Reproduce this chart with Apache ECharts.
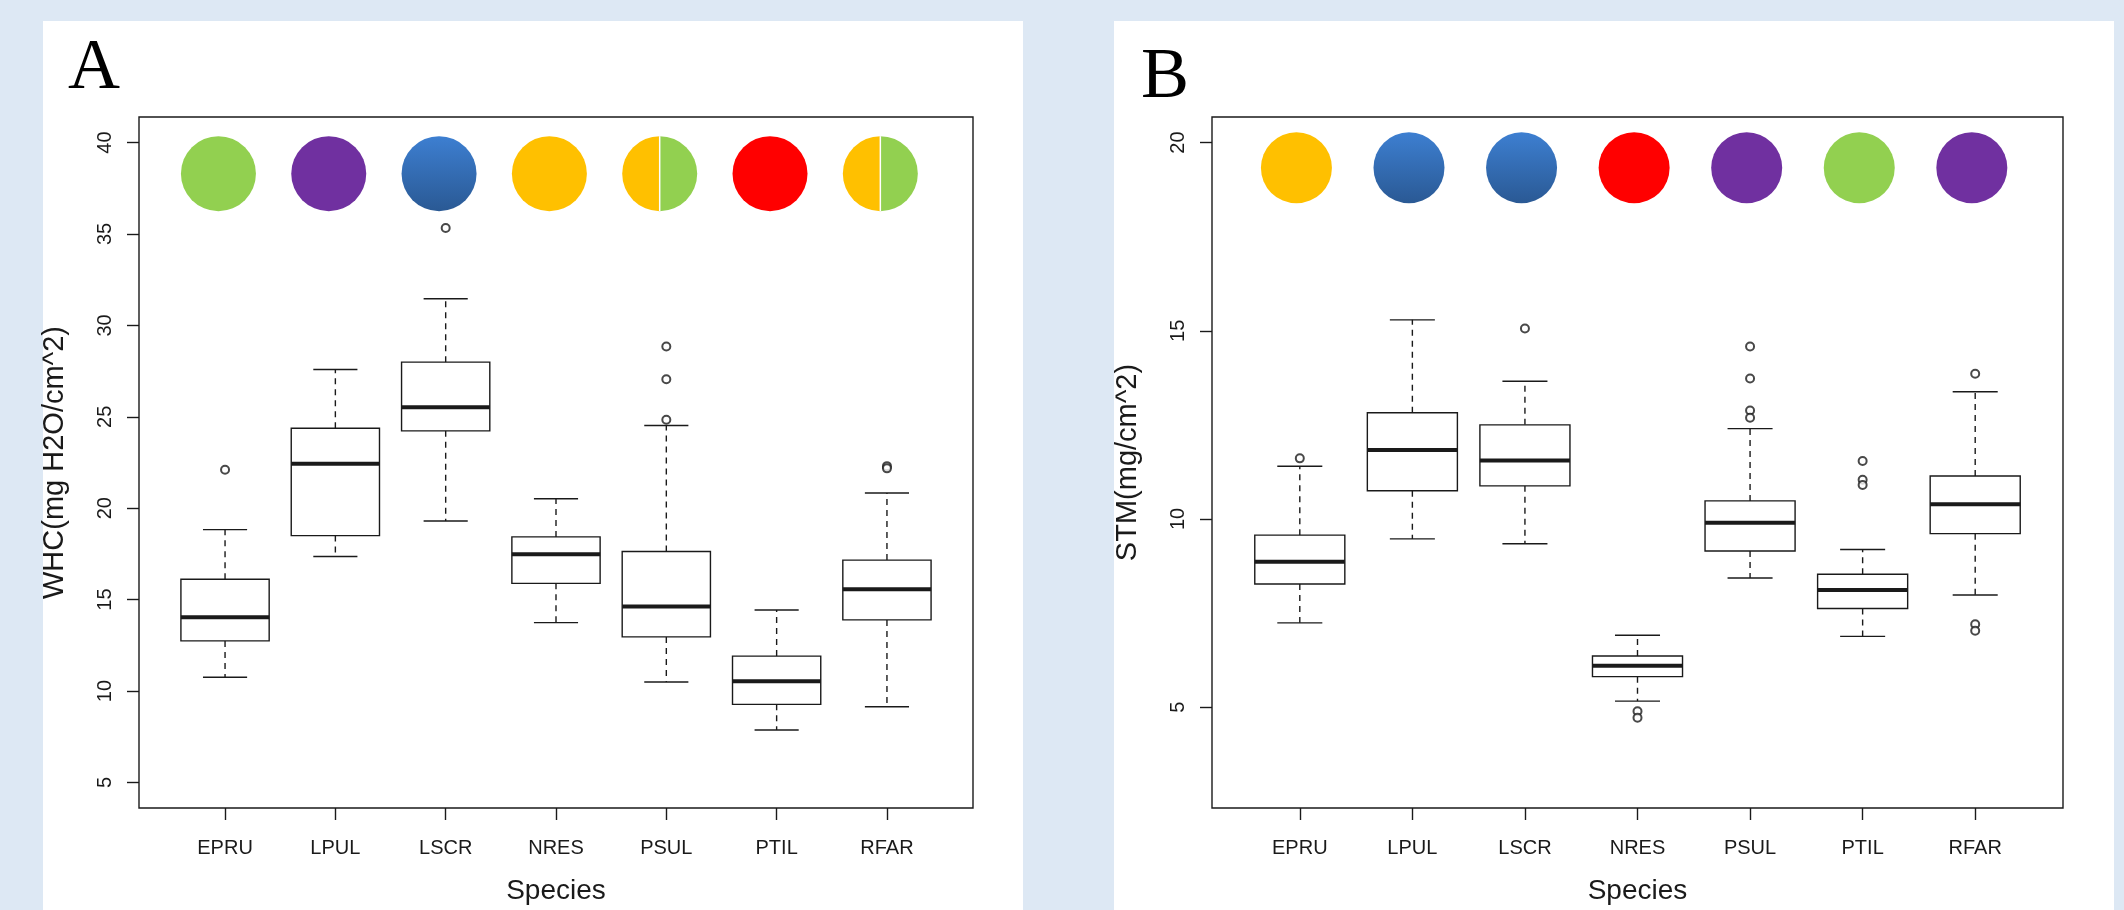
<!DOCTYPE html>
<html>
<head>
<meta charset="utf-8">
<title>WHC / STM by species</title>
<script src="https://cdn.jsdelivr.net/npm/echarts@6/dist/echarts.min.js"></script>
<style>
  html, body { margin: 0; padding: 0; background: #dde8f4; }
  #chart { width: 2124px; height: 910px; }
</style>
</head>
<body>
<div id="chart"></div>
<script>
// categories
const species = ['EPRU', 'LPUL', 'LSCR', 'NRES', 'PSUL', 'PTIL', 'RFAR'];

// panel A - WHC: [lower whisker, Q1, median, Q3, upper whisker]
const whcBoxes = [
  [10.75, 12.74, 14.03, 16.11, 18.83],
  [17.36, 18.5, 22.43, 24.37, 27.59],
  [19.3, 24.23, 25.52, 27.99, 31.46],
  [13.74, 15.89, 17.48, 18.43, 20.52],
  [10.49, 12.96, 14.62, 17.63, 24.52],
  [7.87, 9.27, 10.54, 11.91, 14.43],
  [9.14, 13.89, 15.56, 17.16, 20.83]
];
// [species index, value]
const whcOutliers = [
  [0, 22.1], [2, 35.33], [4, 28.85], [4, 27.05], [4, 24.84], [6, 22.3], [6, 22.18]
];
const whcTicks = [5, 10, 15, 20, 25, 30, 35, 40];
const whcDots = ['green', 'purple', 'blue', 'orange', 'orange/green', 'red', 'orange/green'];
const whcDotRow = 38.3;

// panel B - STM
const stmBoxes = [
  [7.24, 8.27, 8.86, 9.57, 11.4],
  [9.47, 10.75, 11.83, 12.82, 15.29],
  [9.34, 10.88, 11.55, 12.5, 13.66],
  [5.16, 5.81, 6.1, 6.36, 6.91],
  [8.43, 9.15, 9.9, 10.48, 12.4],
  [6.88, 7.62, 8.11, 8.53, 9.19],
  [7.98, 9.61, 10.39, 11.14, 13.38]
];
const stmOutliers = [
  [0, 11.61], [2, 15.06], [3, 4.89], [3, 4.72],
  [4, 14.58], [4, 13.73], [4, 12.88], [4, 12.69],
  [5, 11.54], [5, 11.04], [5, 10.9],
  [6, 13.86], [6, 7.2], [6, 7.03]
];
const stmTicks = [5, 10, 15, 20];
const stmDots = ['orange', 'blue', 'blue', 'red', 'purple', 'green', 'purple'];
const stmDotRow = 19.33;

const ink = '#1a1a1a';
const sans = '"Liberation Sans", Arial, sans-serif';

const chart = echarts.init(document.getElementById('chart'));

const dotFills = {
  green: '#92d050',
  purple: '#7030a0',
  orange: '#ffc000',
  red: '#ff0000',
  blue: new echarts.graphic.LinearGradient(0, 0, 0, 1, [
    { offset: 0, color: '#3d7fd1' },
    { offset: 1, color: '#2a5994' }
  ])
};

function renderBox(params, api) {
  const x = api.value(0);
  const low = api.coord([x, api.value(1)]);
  const q1 = api.coord([x, api.value(2)]);
  const med = api.coord([x, api.value(3)]);
  const q3 = api.coord([x, api.value(4)]);
  const high = api.coord([x, api.value(5)]);
  const half = api.size([0.8, 0])[0] / 2;
  const cx = low[0];
  const solid = { stroke: ink, lineWidth: 1.4, fill: null };
  const dashed = { stroke: ink, lineWidth: 1.4, lineDash: [6, 5] };
  return {
    type: 'group',
    children: [
      { type: 'line', shape: { x1: cx, y1: q3[1], x2: cx, y2: high[1] }, style: dashed },
      { type: 'line', shape: { x1: cx, y1: q1[1], x2: cx, y2: low[1] }, style: dashed },
      { type: 'line', shape: { x1: cx - half / 2, y1: high[1], x2: cx + half / 2, y2: high[1] }, style: solid },
      { type: 'line', shape: { x1: cx - half / 2, y1: low[1], x2: cx + half / 2, y2: low[1] }, style: solid },
      {
        type: 'rect',
        shape: { x: cx - half, y: q3[1], width: half * 2, height: q1[1] - q3[1] },
        style: { stroke: ink, lineWidth: 1.4, fill: '#fff' }
      },
      { type: 'line', shape: { x1: cx - half, y1: med[1], x2: cx + half, y2: med[1] }, style: { stroke: ink, lineWidth: 4 } }
    ]
  };
}

function boxSeries(axis, boxes) {
  return {
    type: 'custom',
    xAxisIndex: axis,
    yAxisIndex: axis,
    silent: true,
    encode: { x: 0, y: [1, 2, 3, 4, 5] },
    data: boxes.map((b, i) => [i + 1].concat(b)),
    renderItem: renderBox,
    z: 3
  };
}

function outlierSeries(axis, points) {
  return {
    type: 'scatter',
    xAxisIndex: axis,
    yAxisIndex: axis,
    silent: true,
    symbol: 'emptyCircle',
    symbolSize: 8,
    itemStyle: { color: ink, borderWidth: 1.2 },
    data: points.map((p) => [p[0] + 1, p[1]]),
    z: 4
  };
}

function dotSeries(axis, keys, row, radius, shift) {
  return {
    type: 'custom',
    xAxisIndex: axis,
    yAxisIndex: axis,
    silent: true,
    data: keys.map((k, i) => [i + 1 + shift, row]),
    renderItem(params, api) {
      const p = api.coord([api.value(0), api.value(1)]);
      const key = keys[params.dataIndex];
      if (key.indexOf('/') > -1) {
        const parts = key.split('/');
        return {
          type: 'group',
          children: [
            {
              type: 'sector',
              shape: { cx: p[0], cy: p[1], r: radius, startAngle: Math.PI / 2, endAngle: Math.PI * 1.5, clockwise: true },
              style: { fill: dotFills[parts[0]] }
            },
            {
              type: 'sector',
              shape: { cx: p[0], cy: p[1], r: radius, startAngle: -Math.PI / 2, endAngle: Math.PI / 2, clockwise: true },
              style: { fill: dotFills[parts[1]] }
            },
            {
              type: 'line',
              shape: { x1: p[0], y1: p[1] - radius, x2: p[0], y2: p[1] + radius },
              style: { stroke: '#fff', lineWidth: 1.5 }
            }
          ]
        };
      }
      return { type: 'circle', shape: { cx: p[0], cy: p[1], r: radius }, style: { fill: dotFills[key] } };
    },
    z: 5
  };
}

function xAxis(gridIndex) {
  return {
    type: 'value',
    gridIndex: gridIndex,
    min: 0.22,
    max: 7.78,
    name: 'Species',
    nameLocation: 'middle',
    nameGap: 69,
    nameTextStyle: { color: ink, fontSize: 28, fontFamily: sans },
    axisLine: { show: false },
    splitLine: { show: false },
    axisTick: { show: true, length: 12, customValues: [1, 2, 3, 4, 5, 6, 7], lineStyle: { color: ink, width: 1.4 } },
    axisLabel: {
      customValues: [1, 2, 3, 4, 5, 6, 7],
      formatter: (v) => species[Math.round(v) - 1],
      margin: 30,
      color: ink,
      fontSize: 20,
      fontFamily: sans
    }
  };
}

function yAxis(gridIndex, name, min, max, ticks) {
  return {
    type: 'value',
    gridIndex: gridIndex,
    min: min,
    max: max,
    name: name,
    nameLocation: 'middle',
    nameRotate: 90,
    nameGap: 70,
    nameTextStyle: { color: ink, fontSize: 29, fontFamily: sans },
    axisLine: { show: false },
    splitLine: { show: false },
    axisTick: { show: true, length: 12, customValues: ticks, lineStyle: { color: ink, width: 1.4 } },
    axisLabel: {
      customValues: ticks,
      rotate: 90,
      margin: 24,
      color: ink,
      fontSize: 20,
      fontFamily: sans
    }
  };
}

const option = {
  animation: false,
  graphic: [
    { type: 'rect', z: -10, shape: { x: 43, y: 21, width: 980, height: 900 }, style: { fill: '#fff' } },
    { type: 'rect', z: -10, shape: { x: 1114, y: 21, width: 1000, height: 900 }, style: { fill: '#fff' } },
    {
      type: 'text', z: 10, x: 68, y: 69,
      style: { text: 'A', fill: '#000', font: '72px "Liberation Serif", "DejaVu Serif", serif', verticalAlign: 'middle' }
    },
    {
      type: 'text', z: 10, x: 1141, y: 78,
      style: { text: 'B', fill: '#000', font: '72px "Liberation Serif", "DejaVu Serif", serif', verticalAlign: 'middle' }
    }
  ],
  grid: [
    { left: 139, top: 117, width: 834, height: 693, show: true, borderColor: ink, borderWidth: 1.4, backgroundColor: 'transparent' },
    { left: 1212, top: 117, width: 851, height: 698, show: true, borderColor: ink, borderWidth: 1.4, backgroundColor: 'transparent' }
  ],
  xAxis: [xAxis(0), xAxis(1)],
  yAxis: [
    yAxis(0, 'WHC(mg H2O/cm^2)', 3.6, 41.4, whcTicks),
    yAxis(1, 'STM(mg/cm^2)', 2.32, 20.68, stmTicks)
  ],
  series: [
    boxSeries(0, whcBoxes),
    outlierSeries(0, whcOutliers),
    dotSeries(0, whcDots, whcDotRow, 37.5, -0.06),
    boxSeries(1, stmBoxes),
    outlierSeries(1, stmOutliers),
    dotSeries(1, stmDots, stmDotRow, 35.5, -0.03)
  ]
};

chart.setOption(option);
</script>
</body>
</html>
